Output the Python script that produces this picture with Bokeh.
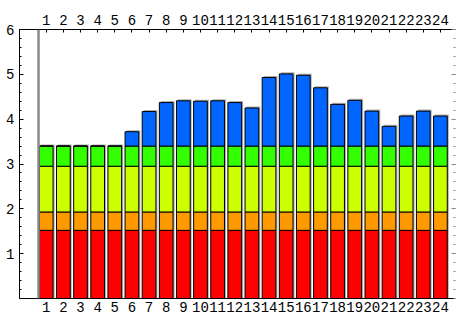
from bokeh.plotting import figure
from bokeh.models import ColumnDataSource, LinearAxis, FixedTicker, Range1d, Span
from bokeh.transform import dodge
from bokeh.embed import file_html
from bokeh.resources import INLINE

categories = list(range(1, 25))
red = [1.52] * 24
orange = [0.41] * 24
yellow = [1.02] * 24
green = [0.45] * 24
blue = [0, 0, 0, 0, 0, 0.32, 0.77, 0.97, 1.01, 1.00, 1.01, 0.97, 0.85, 1.53,
        1.61, 1.58, 1.30, 0.93, 1.02, 0.78, 0.44, 0.67, 0.78, 0.67]
y_ticks = [1, 2, 3, 4, 5, 6]

layers = ["red", "orange", "yellow", "green", "blue"]
colors = ["#FF0000", "#FF9900", "#CCFF00", "#33FF00", "#0066FF"]

totals = [r + o + y + g + b for r, o, y, g, b in zip(red, orange, yellow, green, blue)]
source = ColumnDataSource(dict(x=categories, red=red, orange=orange, yellow=yellow,
                               green=green, blue=blue,
                               shadow_top=[t + 0.035 for t in totals]))

FONT = "Liberation Mono"
FS = "14px"

p = figure(width=456, height=314, output_backend="svg", toolbar_location=None,
           x_range=Range1d(-0.56, 24.88), y_range=Range1d(0, 6),
           x_axis_location=None, y_axis_location=None,
           min_border_left=19, min_border_right=1, min_border_top=29,
           min_border_bottom=15)
p.outline_line_color = None
p.xgrid.visible = False
p.ygrid.visible = False
p.background_fill_color = "white"

# gray vertical axis line (Mathematica style origin axis)
p.add_layout(Span(location=0.55, dimension="height", line_color="#8a8a8a", line_width=2.5))

# drop shadows
p.vbar(x=dodge("x", 0.09), top="shadow_top", bottom=0, width=0.8, source=source,
       fill_color="#b0b0b0", line_color=None)

p.vbar_stack(layers, x="x", width=0.8, color=colors, source=source,
             line_color="black", line_width=1)

xt = FixedTicker(ticks=categories)
yt = FixedTicker(ticks=y_ticks, minor_ticks=[i * 0.2 for i in range(31)])

left = LinearAxis(ticker=yt)
left.axis_line_color = "black"
left.major_tick_in = 4
left.major_tick_out = 0
left.minor_tick_in = 2
left.minor_tick_out = 0
left.major_tick_line_color = "black"
left.minor_tick_line_color = "black"
left.major_label_standoff = 5
left.major_label_text_font = FONT
left.major_label_text_font_size = FS
left.major_label_text_color = "black"
p.add_layout(left, "left")

right = LinearAxis(ticker=yt)
right.axis_line_color = None
right.major_tick_in = 4
right.major_tick_out = 0
right.minor_tick_in = 2
right.minor_tick_out = 0
right.major_tick_line_color = "#888888"
right.minor_tick_line_color = "#888888"
right.major_label_overrides = {t: "" for t in y_ticks}
right.major_label_standoff = 0
p.add_layout(right, "right")

top = LinearAxis(ticker=xt)
top.axis_line_color = "black"
top.major_tick_in = 3
top.major_tick_out = 0
top.minor_tick_line_color = None
top.major_tick_line_color = "black"
top.major_label_standoff = 5
top.major_label_text_font = FONT
top.major_label_text_font_size = FS
top.major_label_text_color = "black"
p.add_layout(top, "above")

bottom = LinearAxis(ticker=xt)
bottom.axis_line_color = "black"
bottom.major_tick_line_color = None
bottom.minor_tick_line_color = None
bottom.major_tick_out = 0
bottom.major_tick_in = 0
bottom.major_label_standoff = 3
bottom.major_label_text_font = FONT
bottom.major_label_text_font_size = FS
bottom.major_label_text_color = "black"
p.add_layout(bottom, "below")

open("out.html", "w").write(file_html(p, INLINE))
